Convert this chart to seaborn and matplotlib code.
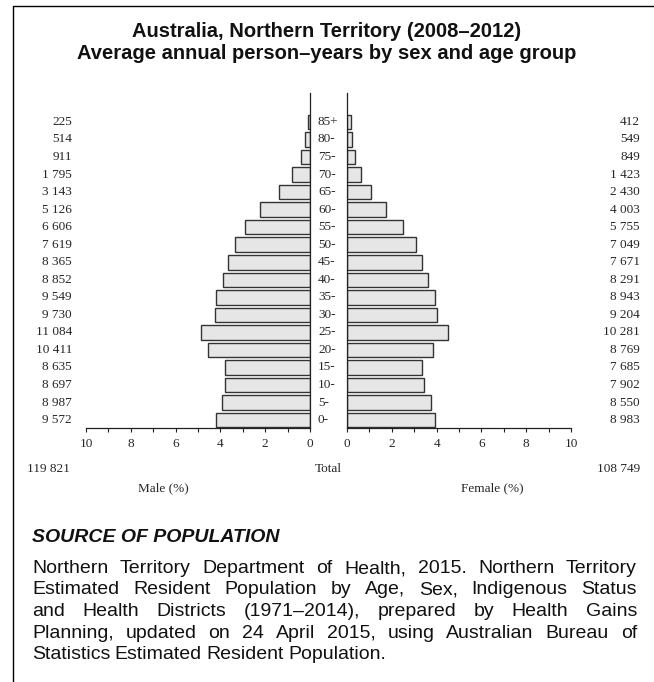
import pandas as pd
import seaborn as sns
import matplotlib.pyplot as plt
from matplotlib.lines import Line2D
from matplotlib.ticker import MultipleLocator
from matplotlib.transforms import blended_transform_factory

ages = ['85+', '80-', '75-', '70-', '65-', '60-', '55-', '50-', '45-',
        '40-', '35-', '30-', '25-', '20-', '15-', '10-', '5-', '0-']
male = [225, 514, 911, 1795, 3143, 5126, 6606, 7619, 8365,
        8852, 9549, 9730, 11084, 10411, 8635, 8697, 8987, 9572]
female = [412, 549, 849, 1423, 2430, 4003, 5755, 7049, 7671,
          8291, 8943, 9204, 10281, 8769, 7685, 7902, 8550, 8983]
male_total = 119821
female_total = 108749

title_lines = ['Australia, Northern Territory (2008\u20132012)',
               'Average annual person\u2013years by sex and age group']
source_head = 'SOURCE OF POPULATION'
source_lines = [
    'Northern Territory Department of Health, 2015. Northern Territory',
    'Estimated Resident Population by Age, Sex, Indigenous Status',
    'and Health Districts (1971\u20132014), prepared by Health Gains',
    'Planning, updated on 24 April 2015, using Australian Bureau of',
    'Statistics Estimated Resident Population.',
]

sns.set_style('white')
plt.rcParams['font.family'] = ['Liberation Serif', 'DejaVu Serif']

W, H = 654, 682
grand = male_total + female_total
df = pd.DataFrame({'age': ages,
                   'male': [m / grand * 100 for m in male],
                   'female': [f / grand * 100 for f in female]})


def fx(px):
    return px / W


def fy(py):
    return 1 - py / H


def fmt(n):
    return f'{n:,}'.replace(',', ' ')


fig = plt.figure(figsize=(W / 100, H / 100), dpi=100)

ax_top, ax_bot = 93, 428
ax_m = fig.add_axes([fx(86), fy(ax_bot), fx(224), (ax_bot - ax_top) / H])
ax_f = fig.add_axes([fx(347), fy(ax_bot), fx(224), (ax_bot - ax_top) / H])

bar_kw = dict(color='#e6e6e6', edgecolor='#333333', linewidth=1.0,
              saturation=1, width=0.83, orient='h')
sns.barplot(data=df, x='male', y='age', ax=ax_m, **bar_kw)
sns.barplot(data=df, x='female', y='age', ax=ax_f, **bar_kw)

for ax, side in [(ax_m, 'right'), (ax_f, 'left')]:
    ax.set_ylim(17.45, -1.65)
    ax.set_xlabel('')
    ax.set_ylabel('')
    ax.set_yticks([])
    for s in ['top', 'left', 'right', 'bottom']:
        ax.spines[s].set_visible(s in (side, 'bottom'))
        ax.spines[s].set_color('#222222')
        ax.spines[s].set_linewidth(0.9)
    ax.xaxis.set_major_locator(MultipleLocator(2))
    ax.xaxis.set_minor_locator(MultipleLocator(1))
    ax.tick_params(axis='x', which='both', bottom=True, direction='out',
                   length=3, width=0.8, color='#222222', labelsize=9.5, pad=4)
    ax.patch.set_alpha(0)

ax_m.set_xlim(10, 0)
ax_f.set_xlim(0, 10)

# age labels and counts
tr = blended_transform_factory(fig.transFigure, ax_m.transData)
for i, a in enumerate(ages):
    fig.text(fx(318), i, a, transform=tr, ha='left', va='center', fontsize=9.5)
    fig.text(fx(72), i, fmt(male[i]), transform=tr, ha='right', va='center', fontsize=9.5)
    fig.text(fx(640), i, fmt(female[i]), transform=tr, ha='right', va='center', fontsize=9.5)

fig.text(fx(27), fy(469), fmt(male_total), ha='left', va='center', fontsize=9.5)
fig.text(fx(328), fy(469), 'Total', ha='center', va='center', fontsize=9.5)
fig.text(fx(640), fy(469), fmt(female_total), ha='right', va='center', fontsize=9.5)
fig.text(fx(163), fy(488), 'Male (%)', ha='center', va='center', fontsize=9.5)
fig.text(fx(492), fy(488), 'Female (%)', ha='center', va='center', fontsize=9.5)

sans = ['Liberation Sans', 'DejaVu Sans']
fig.text(fx(327), fy(37), title_lines[0], ha='center', va='baseline', fontsize=14.5,
         fontweight='bold', family=sans, color='#111111')
fig.text(fx(327), fy(59), title_lines[1], ha='center', va='baseline', fontsize=14.5,
         fontweight='bold', family=sans, color='#111111')

fig.text(fx(32), fy(542), source_head, ha='left', va='baseline', fontsize=14,
         fontweight='bold', fontstyle='italic', family=sans, color='#111111')

# justified source text
renderer = fig.canvas.get_renderer()
left, right = 32, 637
base = 573
for k, line in enumerate(source_lines):
    words = line.split(' ')
    texts = [fig.text(0, 0, w, fontsize=14, family=sans, va='baseline', ha='left',
                      color='#111111') for w in words]
    widths = [t.get_window_extent(renderer).width for t in texts]
    if k < len(source_lines) - 1:
        gap = (right - left - sum(widths)) / (len(words) - 1)
    else:
        gap = 4.5
    x = left
    y = base + k * 21.5
    for t, w in zip(texts, widths):
        t.set_position((fx(x), fy(y)))
        x += w + gap

# frame
fig.add_artist(Line2D([fx(12.5), fx(12.5)], [fy(6), 0], transform=fig.transFigure,
                      color='black', linewidth=1))
fig.add_artist(Line2D([fx(12.5), 1], [fy(6), fy(6)], transform=fig.transFigure,
                      color='black', linewidth=1))

fig.savefig('out.png', dpi=100)
